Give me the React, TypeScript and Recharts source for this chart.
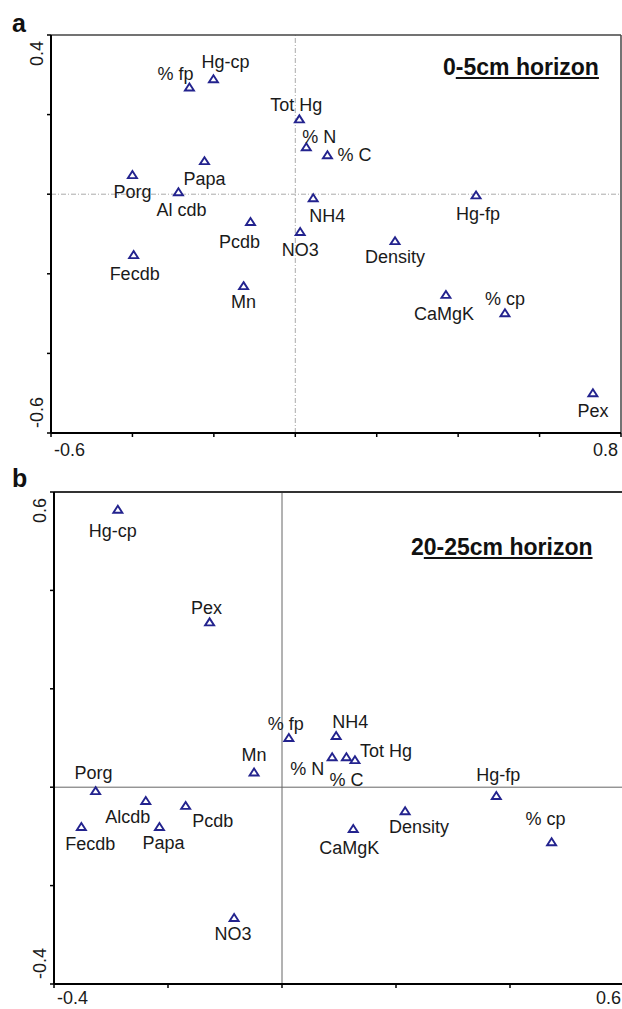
import React from "react";
import { ScatterChart, Scatter, XAxis, YAxis, ReferenceLine } from "recharts";

// panel a: 0-5 cm horizon, ordination scores
const varsA = ["% fp", "Hg-cp", "Tot Hg", "% N", "% C", "Papa", "Porg", "Al cdb", "NH4", "Hg-fp", "Pcdb", "NO3", "Density", "Fecdb", "Mn", "CaMgK", "% cp", "Pex"];
const axis1A = [-0.26, -0.201, 0.01, 0.027, 0.079, -0.223, -0.4, -0.287, 0.044, 0.444, -0.11, 0.012, 0.245, -0.397, -0.127, 0.37, 0.515, 0.731];
const axis2A = [0.268, 0.289, 0.188, 0.118, 0.098, 0.083, 0.048, 0.005, -0.01, -0.003, -0.07, -0.095, -0.118, -0.153, -0.231, -0.253, -0.299, -0.5];

// panel b: 20-25 cm horizon
const varsB = ["Hg-cp", "Pex", "% fp", "NH4", "Mn", "% N", "% C", "Tot Hg", "Porg", "Alcdb", "Pcdb", "Fecdb", "Papa", "NO3", "Hg-fp", "Density", "CaMgK", "% cp"];
const axis1B = [-0.288, -0.127, 0.012, 0.095, -0.049, 0.088, 0.113, 0.128, -0.327, -0.239, -0.169, -0.352, -0.215, -0.084, 0.376, 0.216, 0.125, 0.473];
const axis2B = [0.564, 0.335, 0.1, 0.104, 0.03, 0.061, 0.061, 0.055, -0.008, -0.028, -0.038, -0.081, -0.081, -0.266, -0.018, -0.049, -0.085, -0.112];

const ticksA_x = [-0.6, -0.4, -0.2, 0, 0.2, 0.4, 0.6, 0.8];
const ticksA_y = [-0.6, -0.4, -0.2, 0, 0.2, 0.4];
const ticksB_x = [-0.4, -0.2, 0, 0.2, 0.4, 0.6];
const ticksB_y = [-0.4, -0.2, 0, 0.2, 0.4, 0.6];

// label placement around each marker (dx, dy in px)
const labelPosA = [[-14, -14], [12, -17], [-3, -14], [13, -10], [27, 0], [0, 18], [0, 17], [3, 18], [14, 18], [2, 19], [-11, 20], [0, 18], [0, 16], [1, 19], [0, 16], [-2, 19], [0, -14], [0, 18]];
const labelPosB = [[-5, 21], [-3, -14], [-3, -14], [14, -14], [0, -17], [-25, 12], [0, 23], [31, -9], [-2, -18], [-18, 16], [27, 15], [9, 17], [4, 16], [-1, 16], [2, -21], [14, 16], [-4, 19], [-6, -23]];

const FONT = "'Liberation Sans', Arial, Helvetica, sans-serif";
const MARK = "#23238e";
const INK = "#1a1a1a";

const toPoints = (names: string[], xs: number[], ys: number[]) =>
  names.map((name, i) => ({ name, x: xs[i], y: ys[i], i }));

const dataA = toPoints(varsA, axis1A, axis2A);
const dataB = toPoints(varsB, axis1B, axis2B);

const makeShape = (pos: number[][]) => (props: any) => {
  const { cx, cy, payload } = props;
  const [dx, dy] = pos[payload.i];
  return (
    <g>
      <polygon
        points={`${cx},${cy - 4} ${cx + 4.5},${cy + 3} ${cx - 4.5},${cy + 3}`}
        fill="#fff"
        stroke={MARK}
        strokeWidth={1.9}
      />
      <text x={cx + dx} y={cy + dy} textAnchor="middle" dominantBaseline="central" fontFamily={FONT} fontSize={18} fill={INK}>
        {payload.name}
      </text>
    </g>
  );
};

const xTick = (lo: number, hi: number, drop: number) => (props: any) => {
  const { x, y, payload } = props;
  const v = payload.value;
  if (v !== lo && v !== hi) return <g />;
  return (
    <text x={v === lo ? x + 3 : x - 3} y={y + drop} textAnchor={v === lo ? "start" : "end"} fontFamily={FONT} fontSize={18} fill={INK}>
      {v.toFixed(1)}
    </text>
  );
};

const yTick = (lo: number, hi: number) => (props: any) => {
  const { x, y, payload } = props;
  const v = payload.value;
  if (v !== lo && v !== hi) return <g />;
  const top = v === hi;
  const tx = x - 2;
  const ty = top ? y + 6 : y - 5;
  return (
    <text x={tx} y={ty} transform={`rotate(-90 ${tx} ${ty})`} textAnchor={top ? "end" : "start"} fontFamily={FONT} fontSize={18} fill={INK}>
      {v.toFixed(1)}
    </text>
  );
};

const Letter = ({ ch, top }: { ch: string; top: number }) => (
  <div style={{ position: "absolute", left: 12, top, fontFamily: FONT, fontWeight: 700, fontSize: 25, lineHeight: "28px", color: "#111" }}>{ch}</div>
);

const Title = ({ lead, rest, left, top }: { lead: string; rest: string; left: number; top: number }) => (
  <div style={{ position: "absolute", left, top, fontFamily: FONT, fontWeight: 700, fontSize: 23, lineHeight: "26px", color: "#111", whiteSpace: "nowrap" }}>
    <span>{lead}</span>
    <span style={{ textDecoration: "underline" }}>{rest}</span>
  </div>
);

export default function App() {
  return (
    <div style={{ position: "fixed", left: 0, top: 0, width: 622, height: 1009, overflow: "hidden", background: "#fff" }}>
      <div style={{ position: "absolute", left: 0, top: 0 }}>
        <ScatterChart width={622} height={470} margin={{ top: 35, right: 1, bottom: 0, left: 0 }}>
          <XAxis dataKey="x" type="number" domain={[-0.6, 0.8]} ticks={ticksA_x} interval={0} height={37}
            axisLine={{ stroke: "#000", strokeWidth: 2 }} tickLine={{ stroke: "#000", strokeWidth: 1.5 }} tickSize={4} tick={xTick(-0.6, 0.8, 17)} allowDataOverflow />
          <YAxis dataKey="y" type="number" domain={[-0.6, 0.4]} ticks={ticksA_y} interval={0} width={51}
            axisLine={{ stroke: "#000", strokeWidth: 2 }} tickLine={{ stroke: "#000", strokeWidth: 1.5 }} tickSize={4} tick={yTick(-0.6, 0.4)} allowDataOverflow />
          <ReferenceLine x={0} stroke="#aaa" strokeWidth={1} strokeDasharray="5 2 1 2" />
          <ReferenceLine y={0} stroke="#aaa" strokeWidth={1} strokeDasharray="5 2 1 2" />
          <ReferenceLine y={0.4} stroke="#444" strokeWidth={1.5} />
          <ReferenceLine x={0.8} stroke="#444" strokeWidth={1.5} />
          <Scatter data={dataA} shape={makeShape(labelPosA)} isAnimationActive={false} />
        </ScatterChart>
      </div>
      <div style={{ position: "absolute", left: 0, top: 470 }}>
        <ScatterChart width={640} height={539} margin={{ top: 22, right: 16, bottom: 0, left: 0 }}>
          <XAxis dataKey="x" type="number" domain={[-0.4, 0.6]} ticks={ticksB_x} interval={0} height={25}
            axisLine={{ stroke: "#000", strokeWidth: 2 }} tickLine={{ stroke: "#000", strokeWidth: 1.5 }} tickSize={4} tick={xTick(-0.4, 0.6, 14)} allowDataOverflow />
          <YAxis dataKey="y" type="number" domain={[-0.4, 0.6]} ticks={ticksB_y} interval={0} width={54}
            axisLine={{ stroke: "#000", strokeWidth: 2 }} tickLine={{ stroke: "#000", strokeWidth: 1.5 }} tickSize={4} tick={yTick(-0.4, 0.6)} allowDataOverflow />
          <ReferenceLine x={0} stroke="#666" strokeWidth={1} />
          <ReferenceLine y={0} stroke="#666" strokeWidth={1} />
          <ReferenceLine y={0.6} stroke="#333" strokeWidth={2} />
          <ReferenceLine x={0.6} stroke="#333" strokeWidth={2} />
          <Scatter data={dataB} shape={makeShape(labelPosB)} isAnimationActive={false} />
        </ScatterChart>
      </div>
      <Letter ch="a" top={9} />
      <Letter ch="b" top={464} />
      <Title lead="0" rest="-5cm horizon" left={443} top={54} />
      <Title lead="2" rest="0-25cm horizon" left={411} top={534} />
    </div>
  );
}
